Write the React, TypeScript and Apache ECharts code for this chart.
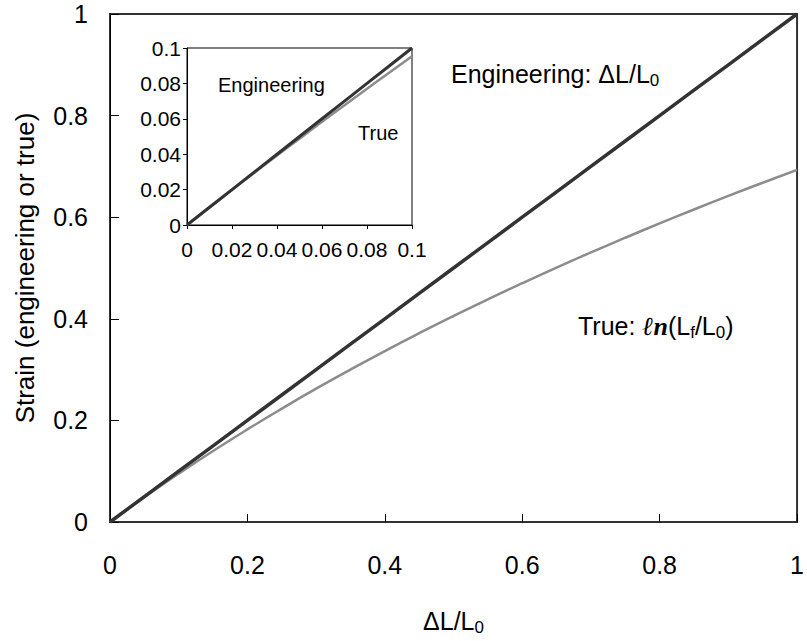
import React, { useEffect, useRef } from "react";
import * as echarts from "echarts";

// Main chart data (ΔL/L0 vs strain)
const mainStrainX = [0, 0.05, 0.1, 0.15, 0.2, 0.25, 0.3, 0.35, 0.4, 0.45, 0.5, 0.55, 0.6, 0.65, 0.7, 0.75, 0.8, 0.85, 0.9, 0.95, 1.0];
const mainEngineering = [0, 0.05, 0.1, 0.15, 0.2, 0.25, 0.3, 0.35, 0.4, 0.45, 0.5, 0.55, 0.6, 0.65, 0.7, 0.75, 0.8, 0.85, 0.9, 0.95, 1.0];
const mainTrue = [0, 0.0488, 0.0953, 0.1398, 0.1823, 0.2231, 0.2624, 0.3001, 0.3365, 0.3716, 0.4055, 0.4383, 0.47, 0.5008, 0.5306, 0.5596, 0.5878, 0.6152, 0.6419, 0.6678, 0.6931];

// Inset data (small strains)
const insetStrainX = [0, 0.01, 0.02, 0.03, 0.04, 0.05, 0.06, 0.07, 0.08, 0.09, 0.1];
const insetEngineering = [0, 0.01, 0.02, 0.03, 0.04, 0.05, 0.06, 0.07, 0.08, 0.09, 0.1];
const insetTrue = [0, 0.00995, 0.0198, 0.02956, 0.03922, 0.04879, 0.05827, 0.06766, 0.07696, 0.08618, 0.09531];

// Tick labels
const mainTickLabels = ["0", "0.2", "0.4", "0.6", "0.8", "1"];
const insetTickLabels = ["0", "0.02", "0.04", "0.06", "0.08", "0.1"];

const FONT = "'Liberation Sans', Arial, sans-serif";
const DARK = "#333333";
const GRAY = "#8c8c8c";

function zip(xs: number[], ys: number[]) {
  return xs.map((x, i) => [x, ys[i]]);
}

function fmt(labels: string[], step: number) {
  return (v: number) => {
    const idx = Math.round(v / step);
    return labels[idx] ?? "";
  };
}

export default function App() {
  const ref = useRef<HTMLDivElement>(null);
  useEffect(() => {
    const chart = echarts.init(ref.current!, null, { renderer: "svg" });
    const subRich = {
      a: { fontSize: 25, fontFamily: FONT, color: "#000", lineHeight: 30 },
      s: { fontSize: 17, fontFamily: FONT, color: "#000", lineHeight: 14, verticalAlign: "bottom" },
    };
    chart.setOption({
      animation: false,
      backgroundColor: "#fff",
      grid: [
        { left: 110, top: 14, right: 8, bottom: 107, show: true, borderColor: DARK, borderWidth: 2, backgroundColor: "transparent" },
        { left: 187, top: 48, width: 225, height: 177, show: true, borderColor: "#000", borderWidth: 1, backgroundColor: "#fff" },
      ],
      xAxis: [
        {
          gridIndex: 0, type: "value", min: 0, max: 1, interval: 0.2,
          name: "{a|ΔL/L}{s|0}", nameLocation: "middle", nameGap: 84,
          nameTextStyle: { rich: subRich },
          axisLine: { show: true, lineStyle: { color: DARK, width: 2 } },
          axisTick: { show: true, inside: true, length: 8, lineStyle: { color: "#000", width: 1 } },
          axisLabel: { margin: 30, fontSize: 25, fontFamily: FONT, color: "#000", formatter: fmt(mainTickLabels, 0.2) },
          splitLine: { show: false },
        },
        {
          gridIndex: 1, type: "value", min: 0, max: 0.1, interval: 0.02,
          axisLine: { show: true, lineStyle: { color: "#000", width: 1 } },
          axisTick: { show: true, inside: false, length: 4, lineStyle: { color: "#000", width: 1 } },
          axisLabel: { margin: 14, fontSize: 21, fontFamily: FONT, color: "#000", formatter: fmt(insetTickLabels, 0.02) },
          splitLine: { show: false },
        },
      ],
      yAxis: [
        {
          gridIndex: 0, type: "value", min: 0, max: 1, interval: 0.2,
          name: "Strain (engineering or true)", nameLocation: "middle", nameGap: 72,
          nameTextStyle: { fontSize: 26, fontFamily: FONT, color: "#000" },
          axisLine: { show: true, lineStyle: { color: "#000", width: 1 } },
          axisTick: { show: true, inside: true, length: 9, lineStyle: { color: "#000", width: 1 } },
          axisLabel: { margin: 22, fontSize: 25, fontFamily: FONT, color: "#000", formatter: fmt(mainTickLabels, 0.2) },
          splitLine: { show: false },
        },
        {
          gridIndex: 1, type: "value", min: 0, max: 0.1, interval: 0.02,
          axisLine: { show: true, lineStyle: { color: "#000", width: 1 } },
          axisTick: { show: true, inside: false, length: 4, lineStyle: { color: "#000", width: 1 } },
          axisLabel: { margin: 6, fontSize: 21, fontFamily: FONT, color: "#000", formatter: fmt(insetTickLabels, 0.02) },
          splitLine: { show: false },
        },
      ],
      series: [
        { type: "line", xAxisIndex: 0, yAxisIndex: 0, data: zip(mainStrainX, mainTrue), smooth: true, showSymbol: false, lineStyle: { color: GRAY, width: 2.5 }, z: 2 },
        { type: "line", xAxisIndex: 0, yAxisIndex: 0, data: zip(mainStrainX, mainEngineering), showSymbol: false, lineStyle: { color: DARK, width: 3.5 }, z: 3 },
        { type: "line", xAxisIndex: 1, yAxisIndex: 1, data: zip(insetStrainX, insetTrue), smooth: true, showSymbol: false, lineStyle: { color: GRAY, width: 2.5 }, z: 4 },
        { type: "line", xAxisIndex: 1, yAxisIndex: 1, data: zip(insetStrainX, insetEngineering), showSymbol: false, lineStyle: { color: DARK, width: 3 }, z: 5 },
      ],
      graphic: [
        {
          type: "text", x: 451, y: 74, z: 10,
          style: {
            text: "{a|Engineering: ΔL/L}{s|0}",
            rich: subRich,
            verticalAlign: "middle",
          },
        },
        {
          type: "text", x: 578, y: 326, z: 10,
          style: {
            text: "{a|True: }{b|ℓn}{a|(L}{s|f}{a|/L}{s|0}{a|)}",
            rich: {
              ...subRich,
              b: { fontSize: 26, fontFamily: "'Liberation Serif', 'DejaVu Serif', serif", fontWeight: "bold", fontStyle: "italic", color: "#000", lineHeight: 30 },
            },
            verticalAlign: "middle",
          },
        },
        {
          type: "text", x: 218, y: 85, z: 10,
          style: { text: "Engineering", fontSize: 20, fontFamily: FONT, fill: "#000", verticalAlign: "middle" },
        },
        {
          type: "text", x: 358, y: 133, z: 10,
          style: { text: "True", fontSize: 20, fontFamily: FONT, fill: "#000", verticalAlign: "middle" },
        },
      ],
    });
    return () => chart.dispose();
  }, []);
  return <div ref={ref} style={{ position: "fixed", left: 0, top: 0, width: 807, height: 641 }} />;
}
